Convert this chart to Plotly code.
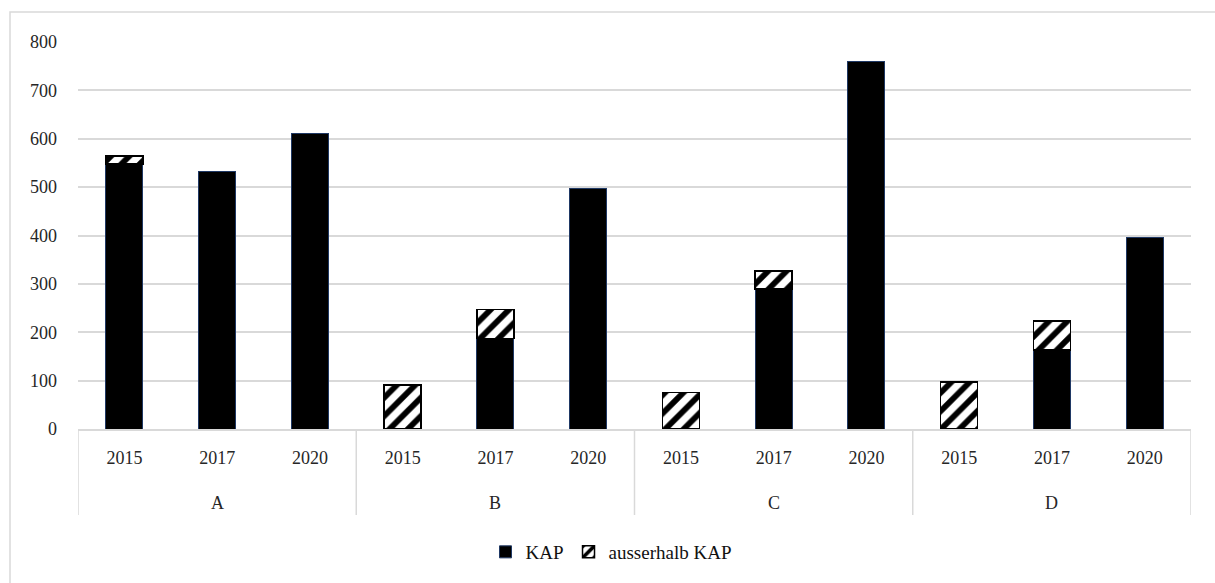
import plotly.graph_objects as go

# Category levels
group_names = ["A", "B", "C", "D"]
year_names = ["2015", "2017", "2020"]
groups = [g for g in group_names for _ in year_names]
years = year_names * len(group_names)
keys = [f"{g} {y}" for g, y in zip(groups, years)]

# Series values (None where a segment is absent)
kap = [548, 533, 610, None, 187, 497, None, 289, 760, None, 163, 396]
ausserhalb_kap = [16, None, None, 91, 60, None, 75, 38, None, 97, 60, None]

W, H = 1215, 583
ML, MR, MT, MB = 78, 24, 42, 154
PW, PH = W - ML - MR, H - MT - MB


def px_x(p):
    return (p - ML) / PW


def px_y(p):
    return (H - MB - p) / PH


font_family = "Liberation Serif"
grid_col = "#d9d9d9"
text_col = "#262626"
fs = 18

fig = go.Figure()
fig.add_trace(go.Bar(
    name="KAP",
    x=keys,
    y=kap,
    marker=dict(color="black", line=dict(color="#1f3864", width=1)),
))
fig.add_trace(go.Bar(
    name="ausserhalb KAP",
    x=keys,
    y=ausserhalb_kap,
    marker=dict(
        color="white",
        line=dict(color="black", width=1.5),
        pattern=dict(shape="/", fgcolor="black", bgcolor="white",
                     fgopacity=1, size=13, solidity=0.45),
    ),
))

# Group labels beneath the year labels
n_years = len(year_names)
for i, g in enumerate(group_names):
    mid = keys[i * n_years + n_years // 2]
    fig.add_annotation(x=mid, xref="x", y=px_y(503), yref="paper",
                       text=g, showarrow=False, yanchor="middle",
                       font=dict(family=font_family, size=fs, color=text_col))

# Group dividers spanning both label rows
for b in range(len(group_names) + 1):
    xb = b * n_years - 0.5
    fig.add_shape(type="line", xref="x", yref="paper",
                  x0=xb, x1=xb, y0=px_y(429), y1=px_y(515),
                  line=dict(color=grid_col, width=1.5))

# Outer chart frame
fig.add_shape(type="rect", xref="paper", yref="paper",
              x0=px_x(10), x1=px_x(W + 5), y0=px_y(12), y1=px_y(H + 5),
              line=dict(color=grid_col, width=1.5), fillcolor="rgba(0,0,0,0)",
              layer="below")

fig.update_layout(
    width=W, height=H,
    margin=dict(l=ML, r=MR, t=MT, b=MB),
    barmode="stack",
    bargap=0.6,
    plot_bgcolor="white",
    paper_bgcolor="white",
    font=dict(family=font_family, size=fs, color=text_col),
    showlegend=True,
    legend=dict(orientation="h", x=px_x(611), xanchor="center",
                y=px_y(552), yanchor="middle",
                font=dict(family=font_family, size=19, color="#111111"),
                itemwidth=30, traceorder="normal"),
)
fig.update_yaxes(range=[0, 800], dtick=100, showgrid=True, gridcolor=grid_col,
                 gridwidth=1.5, zeroline=False, ticks="", showline=False,
                 tickfont=dict(size=fs), ticklabelstandoff=20)
fig.update_xaxes(type="category", range=[-0.5, len(keys) - 0.5],
                 tickmode="array", tickvals=keys, ticktext=years,
                 showline=True, linecolor=grid_col, linewidth=1.5,
                 showgrid=False, ticks="", tickfont=dict(size=fs),
                 ticklabelstandoff=12)

fig.write_html("out.html")
